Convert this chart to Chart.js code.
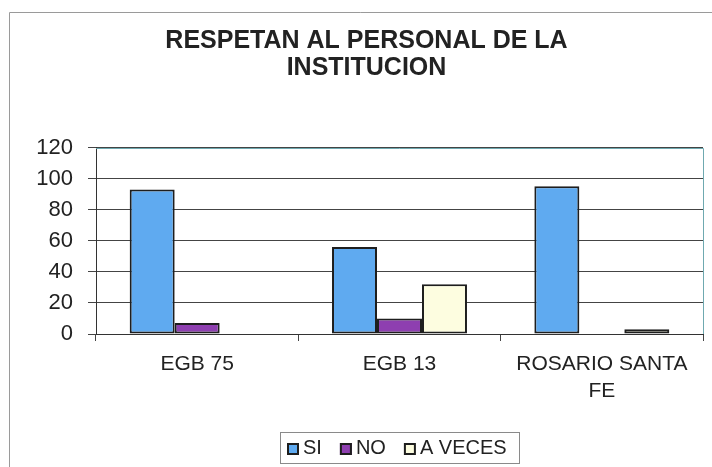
<!DOCTYPE html>
<html>
<head>
<meta charset="utf-8">
<script src="https://cdn.jsdelivr.net/npm/chart.js@4/dist/chart.umd.min.js"></script>
<style>
  html, body { margin: 0; padding: 0; background: #fff; }
  #wrap { width: 712px; height: 467px; position: relative; }
</style>
</head>
<body>
<div id="wrap"><canvas id="c" width="712" height="467"></canvas></div>
<script>
const titleLines = ['RESPETAN AL PERSONAL DE LA', 'INSTITUCION'];
const categories = ['EGB 75', 'EGB 13', ['ROSARIO SANTA', 'FE']];
const seriesNames = ['SI', 'NO', 'A VECES'];
const siValues = [93, 56, 95];
const noValues = [7, 10, 0];
const aVecesValues = [0, 32, 3];
const yTicks = [0, 20, 40, 60, 80, 100, 120];

const FONT = "'Liberation Sans', Arial, sans-serif";

const framePlugin = {
  id: 'frame',
  beforeDraw(chart) {
    const ctx = chart.ctx;
    ctx.save();
    ctx.strokeStyle = '#9a9a9a';
    ctx.lineWidth = 1;
    ctx.beginPath();
    ctx.moveTo(9.5, 467);
    ctx.lineTo(9.5, 12.5);
    ctx.lineTo(712, 12.5);
    ctx.stroke();
    ctx.restore();
  },
  afterDatasetsDraw(chart) {
    const ctx = chart.ctx;
    const a = chart.chartArea;
    ctx.save();
    ctx.strokeStyle = '#6fa9b0';
    ctx.lineWidth = 1;
    ctx.beginPath();
    ctx.moveTo(a.left, Math.round(a.top) + 0.5);
    ctx.lineTo(Math.round(a.right) + 0.5, Math.round(a.top) + 0.5);
    ctx.lineTo(Math.round(a.right) + 0.5, Math.round(a.bottom));
    ctx.stroke();
    ctx.restore();
  },
  afterDraw(chart) {
    // legend drawn from the chart's datasets
    const ctx = chart.ctx;
    const a = chart.chartArea;
    const ds = chart.data.datasets;
    ctx.save();
    ctx.font = "20px " + FONT;
    ctx.textBaseline = 'middle';
    ctx.textAlign = 'left';
    const box = 12, gapText = 4, gapItem = 18, padL = 7, padR = 12;
    const widths = ds.map(d => ctx.measureText(d.label).width);
    let total = padL + padR;
    widths.forEach((w, i) => { total += box + gapText + w + (i < ds.length - 1 ? gapItem : 0); });
    const cx = (a.left + a.right) / 2;
    const left = Math.round(cx - total / 2);
    const top = 432, height = 31;
    const cy = top + height / 2 + 1;
    ctx.strokeStyle = '#8a8a8a';
    ctx.lineWidth = 1;
    ctx.strokeRect(left + 0.5, top + 0.5, Math.round(total), height);
    let x = left + padL;
    ds.forEach((d, i) => {
      ctx.fillStyle = d.backgroundColor;
      ctx.fillRect(x, Math.round(cy - box / 2), box, box);
      ctx.strokeStyle = '#1e1e1e';
      ctx.lineWidth = 2;
      ctx.strokeRect(x + 1, Math.round(cy - box / 2) + 1, box - 2, box - 2);
      ctx.fillStyle = '#222';
      ctx.fillText(d.label, x + box + gapText, cy);
      x += box + gapText + widths[i] + gapItem;
    });
    ctx.restore();
  }
};

new Chart(document.getElementById('c'), {
  type: 'bar',
  data: {
    labels: categories,
    datasets: [
      { label: seriesNames[0], data: siValues, backgroundColor: '#5faaf0', borderColor: '#1e1e1e', borderWidth: 2 },
      { label: seriesNames[1], data: noValues, backgroundColor: '#8e3fb0', borderColor: '#1e1e1e', borderWidth: 2 },
      { label: seriesNames[2], data: aVecesValues, backgroundColor: '#fdfde0', borderColor: '#1e1e1e', borderWidth: 2 }
    ]
  },
  options: {
    responsive: false,
    animation: false,
    devicePixelRatio: 1,
    layout: { padding: { left: 30, right: 9, top: 0, bottom: 39 } },
    datasets: { bar: { categoryPercentage: 0.667, barPercentage: 1.0, borderSkipped: false } },
    plugins: {
      title: {
        display: true,
        text: titleLines,
        color: '#222',
        font: { family: FONT, size: 25, weight: 'bold', lineHeight: 1.07 },
        padding: { top: 28, bottom: 66 }
      },
      legend: { display: false },
      tooltip: { enabled: false }
    },
    scales: {
      x: {
        offset: true,
        grid: { display: true, drawOnChartArea: false, drawTicks: true, tickLength: 7, color: '#444', offset: true },
        border: { display: true, color: '#333', width: 1 },
        ticks: { color: '#222', font: { family: FONT, size: 21, lineHeight: 1.27 }, maxRotation: 0, autoSkip: false, padding: 10 },
        afterFit(s) { s.height = 94; }
      },
      y: {
        min: 0,
        max: 120,
        afterBuildTicks(s) { s.ticks = yTicks.map(v => ({ value: v })); },
        grid: { color: '#444', tickLength: 8, drawTicks: true },
        border: { display: true, color: '#333', width: 1 },
        ticks: { color: '#222', font: { family: FONT, size: 22 }, padding: 15 },
        afterFit(s) { s.width = 66; }
      }
    }
  },
  plugins: [framePlugin]
});
</script>
</body>
</html>
